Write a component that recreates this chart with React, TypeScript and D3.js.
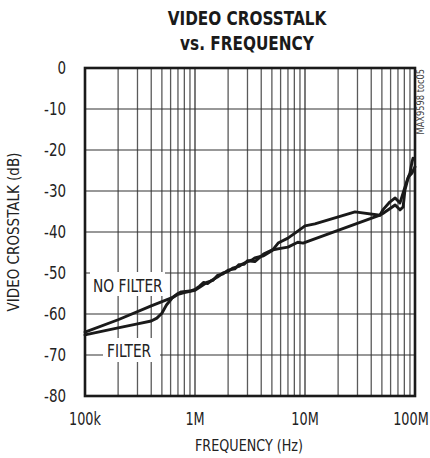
import React from "react";
import * as d3 from "d3";

const titleLines = ["VIDEO CROSSTALK", "vs. FREQUENCY"];
const xTickValues = [1e5, 1e6, 1e7, 1e8];
const xTickLabels = ["100k", "1M", "10M", "100M"];
const yTickValues = [0, -10, -20, -30, -40, -50, -60, -70, -80];
const xLabel = "FREQUENCY (Hz)";
const yLabel = "VIDEO CROSSTALK (dB)";
const noteText = "MAX9598 toc05";

// [frequency Hz, crosstalk dB]
const noFilter: [number, number][] = [
  [1e5, -64.4], [2e5, -61.4], [4e5, -58.0], [6.2e5, -56.0], [7e5, -55.0],
  [7.5e5, -54.6], [9e5, -54.4], [1.0e6, -54.0], [1.1e6, -53.2], [1.2e6, -52.3],
  [1.3e6, -52.6], [1.4e6, -51.9], [1.6e6, -51.0], [1.8e6, -50.0], [2.0e6, -49.6],
  [2.2e6, -48.8], [2.5e6, -48.4], [2.7e6, -47.8], [3.0e6, -47.2], [3.3e6, -46.8],
  [3.5e6, -46.3], [4.2e6, -45.8], [5.0e6, -44.6], [5.7e6, -42.7], [7.0e6, -41.5],
  [8.6e6, -39.8], [1.0e7, -38.5], [1.23e7, -38.0], [2.85e7, -35.1], [4.8e7, -35.9],
  [5.1e7, -34.6], [5.9e7, -32.7], [6.6e7, -31.7], [7.3e7, -32.9], [7.8e7, -30.5],
  [8.5e7, -27.3], [9.0e7, -25.6], [9.4e7, -22.9], [9.6e7, -22.0],
];
const filter: [number, number][] = [
  [1e5, -65.1], [2e5, -63.4], [3e5, -62.4], [4e5, -61.7], [4.5e5, -61.0],
  [5e5, -59.8], [5.5e5, -57.8], [6.2e5, -56.1], [7e5, -55.2], [8e5, -54.8],
  [9e5, -54.5], [1.0e6, -54.2], [1.1e6, -53.5], [1.2e6, -52.8], [1.3e6, -52.2],
  [1.45e6, -51.8], [1.6e6, -50.6], [1.8e6, -50.2], [2.0e6, -49.3], [2.3e6, -49.0],
  [2.5e6, -48.0], [2.8e6, -47.9], [3.0e6, -47.0], [3.5e6, -47.2], [4.2e6, -45.4],
  [5.0e6, -44.4], [6.0e6, -44.0], [7.0e6, -43.7], [8.6e6, -42.5], [9.6e6, -42.7],
  [4.8e7, -35.9], [5.1e7, -35.5], [6.6e7, -33.4], [7.3e7, -34.6], [7.8e7, -33.9],
  [8.1e7, -29.8], [8.7e7, -26.6], [9.4e7, -25.6], [1.0e8, -24.1],
];

const W = 430;
const H = 458;
const M = { left: 85, right: 415, top: 68, bottom: 396 };
const FONT = "'DejaVu Sans Condensed', 'Liberation Sans Narrow', sans-serif";

function NText(props: {
  x: number;
  y: number;
  sx?: number;
  rotate?: number;
  anchor?: string;
  size: number;
  weight?: string;
  fill?: string;
  dy?: string;
  children: React.ReactNode;
}) {
  const { x, y, sx = 0.88, rotate = 0, anchor = "start", size, weight = "normal", fill = "#222", dy } = props;
  return (
    <g transform={`translate(${x},${y}) rotate(${rotate}) scale(${sx},1)`}>
      <text textAnchor={anchor} fontSize={size} fontWeight={weight} fill={fill} dy={dy}>
        {props.children}
      </text>
    </g>
  );
}

export default function App() {
  const x = d3.scaleLog().domain([1e5, 1e8]).range([M.left, M.right]);
  const y = d3.scaleLinear().domain([-80, 0]).range([M.bottom, M.top]);

  const minorX: number[] = [];
  for (let dec = 1e5; dec < 1e8; dec *= 10) {
    for (let k = 2; k <= 9; k++) minorX.push(dec * k);
  }
  const majorX = xTickValues;

  const line = d3
    .line<[number, number]>()
    .x((d) => x(d[0]))
    .y((d) => y(d[1]))
    .curve(d3.curveLinear);

  return (
    <svg
      width={W}
      height={H}
      style={{ position: "absolute", left: 0, top: 0, background: "#fff" }}
      fontFamily={FONT}
    >
      <rect x={0} y={0} width={W} height={H} fill="#fff" />
      {titleLines.map((t, i) => (
        <NText key={t} x={247} y={25 + i * 25} sx={0.85} anchor="middle" size={20} weight="bold" fill="#1a1a1a">
          {t}
        </NText>
      ))}

      {/* grid */}
      {minorX.map((v, i) => (
        <line key={"mx" + i} x1={x(v)} x2={x(v)} y1={M.top} y2={M.bottom} stroke="#5a5a5a" strokeWidth={1.3} />
      ))}
      {majorX.map((v, i) => (
        <line key={"Mx" + i} x1={x(v)} x2={x(v)} y1={M.top} y2={M.bottom} stroke="#333" strokeWidth={1.3} />
      ))}
      {yTickValues.map((v) => (
        <line key={"gy" + v} x1={M.left} x2={M.right} y1={y(v)} y2={y(v)} stroke="#333" strokeWidth={1.2} />
      ))}

      {/* label boxes */}
      <rect x={90} y={272} width={75} height={24} fill="#fff" />
      <rect x={103} y={338} width={57} height={24} fill="#fff" />
      <NText x={93} y={292} size={17} sx={0.9}>
        NO FILTER
      </NText>
      <NText x={107} y={357} size={17} sx={0.9}>
        FILTER
      </NText>

      {/* curves */}
      <path d={line(noFilter) || ""} fill="none" stroke="#1a1a1a" strokeWidth={2.9} strokeLinejoin="round" strokeLinecap="round" />
      <path d={line(filter) || ""} fill="none" stroke="#1a1a1a" strokeWidth={2.9} strokeLinejoin="round" strokeLinecap="round" />

      {/* frame */}
      <rect x={M.left} y={M.top} width={M.right - M.left} height={M.bottom - M.top} fill="none" stroke="#1a1a1a" strokeWidth={2.6} />

      {/* y ticks */}
      {yTickValues.map((v) => (
        <NText key={"ty" + v} x={66} y={y(v)} dy="0.36em" anchor="end" size={17}>
          {String(v)}
        </NText>
      ))}
      {/* x ticks */}
      {xTickValues.map((v, i) => (
        <NText key={"tx" + i} x={i === 3 ? 411 : x(v)} y={425} anchor="middle" size={17} sx={0.84}>
          {xTickLabels[i]}
        </NText>
      ))}

      <NText x={249} y={451} anchor="middle" size={16.5} sx={0.86}>
        {xLabel}
      </NText>
      <NText x={19} y={232} rotate={-90} anchor="middle" size={15} sx={1}>
        {yLabel}
      </NText>
      <NText x={424} y={69} rotate={-90} anchor="end" size={10} sx={0.92} fill="#444">
        {noteText}
      </NText>
    </svg>
  );
}
